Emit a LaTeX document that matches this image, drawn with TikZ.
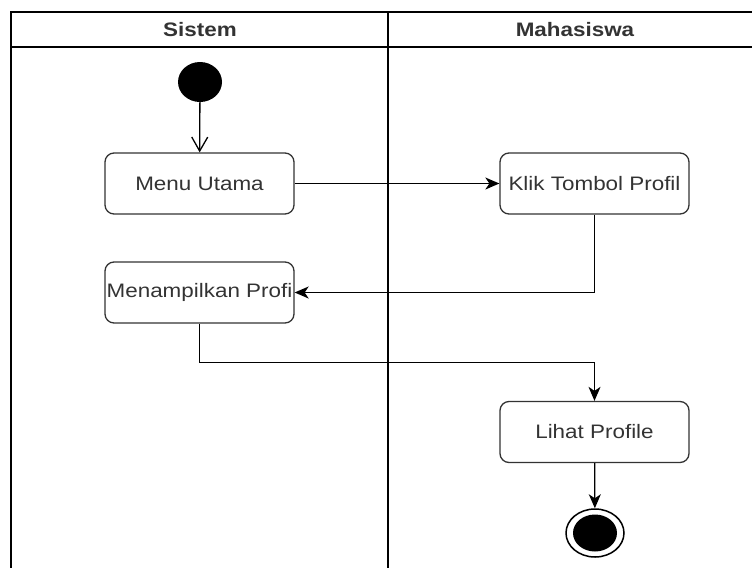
\documentclass[tikz,border=0pt]{standalone}
\usepackage{fontspec}
\newfontfamily\diagfont[FakeStretch=1.15]{Liberation Sans}
\usetikzlibrary{arrows.meta,shapes.geometric}
\definecolor{boxline}{HTML}{333333}
\definecolor{boxtext}{HTML}{333333}

\begin{document}
\begin{tikzpicture}[x=1pt, y=-1pt,
		lane/.style={line width=1.8pt, black},
		head/.style={font=\diagfont\bfseries\fontsize{19.5}{22}\selectfont, text=boxtext},
		act/.style={draw=boxline, line width=1.3pt, rounded corners=9pt, minimum width=189pt, minimum height=61pt, inner sep=0pt, font=\diagfont\fontsize{19.5}{22}\selectfont, text=boxtext},
		flow/.style={line width=1.3pt, -{Stealth[length=14pt, width=12pt, inset=4pt]}},
		openflow/.style={line width=1.3pt, -{Straight Barb[length=14pt, width=16pt]}}]

		\useasboundingbox (0,0) rectangle (752,568);

		% swimlanes
		\draw[lane] (752,12) -- (11,12) -- (11,568);
		\draw[lane] (11,47) -- (752,47);
		\draw[lane] (388,12) -- (388,568);
		\node[head] (sistem) at (200,30) {Sistem};
		\node[head] (mhs) at (575,30) {Mahasiswa};

		\node[ellipse, fill=black, minimum width=44pt, minimum height=40pt, inner sep=0pt] (start) at (200,82) {};
		\node[act] (menu) at (199.5,183.5) {Menu Utama};
		\node[act] (klik) at (594.5,183.5) {Klik Tombol Profil};
		\node[act] (tampil) at (199.5,292.5) {Menampilkan Profi};
		\node[act] (lihat) at (594.5,432) {Lihat Profile};
		\node[ellipse, draw=black, line width=1.5pt, minimum width=58pt, minimum height=48pt, inner sep=0pt] (end) at (595,533) {};
		\node[ellipse, fill=black, minimum width=44pt, minimum height=37pt, inner sep=0pt] (endin) at (595,533) {};

		\draw[openflow] (start) -- (menu);
		\draw[flow] (menu) -- (klik);
		\draw[flow] (klik.south) |- (tampil.east);
		\draw[flow] (tampil.south) -- ++(0,39) -| (lihat.north);
		\draw[flow] (lihat) -- (end);

	\end{tikzpicture}
\end{document}
